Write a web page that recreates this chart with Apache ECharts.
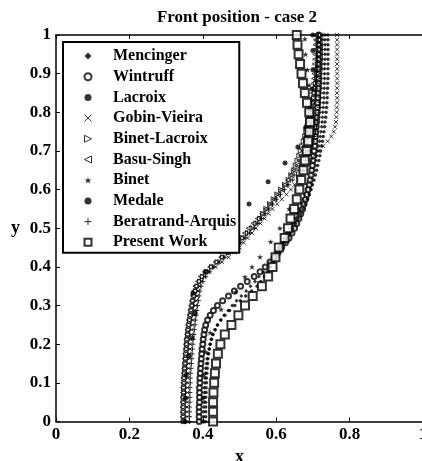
<!DOCTYPE html>
<html><head><meta charset="utf-8">
<script src="https://cdn.jsdelivr.net/npm/echarts@6/dist/echarts.min.js"></script>
<style>html,body{margin:0;padding:0;background:#fff;overflow:hidden}#c{width:422px;height:461px}</style>
</head><body><div id="c"></div>
<script>
// ---- data ----
const yLevels = [0,0.0125,0.025,0.0375,0.05,0.0625,0.075,0.0875,0.1,0.1125,0.125,0.1375,0.15,0.1625,0.175,0.1875,0.2,0.2125,0.225,0.2375,0.25,0.2625,0.275,0.2875,0.3,0.3125,0.325,0.3375,0.35,0.3625,0.375,0.3875,0.4,0.4125,0.425,0.4375,0.45,0.4625,0.475,0.4875,0.5,0.5125,0.525,0.5375,0.55,0.5625,0.575,0.5875,0.6,0.6125,0.625,0.6375,0.65,0.6625,0.675,0.6875,0.7,0.7125,0.725,0.7375,0.75,0.7625,0.775,0.7875,0.8,0.8125,0.825,0.8375,0.85,0.8625,0.875,0.8875,0.9,0.9125,0.925,0.9375,0.95,0.9625,0.975,0.9875,1];
const mencingerX = [.402,.402,.402,.403,.403,.403,.404,.404,.405,.406,.407,.408,.41,.412,.414,.417,.42,.424,.428,.434,.44,.449,.458,.469,.48,.492,.505,.518,.53,.542,.553,.563,.573,.582,.59,.599,.607,.615,.622,.63,.637,.644,.65,.656,.662,.668,.673,.678,.683,.688,.692,.696,.70,.704,.707,.71,.713,.716,.718,.72,.722,.724,.725,.726,.727,.728,.729,.73,.73,.731,.731,.732,.732,.732,.732,.733,.733,.733,.733,.733,.733];
const wintruffX = [.390,.390,.390,.390,.391,.391,.391,.391,.392,.392,.393,.394,.395,.396,.397,.398,.400,.401,.403,.405,.408,.413,.42,.429,.44,.454,.47,.486,.503,.521,.54,.556,.57,.583,.595,.605,.615,.625,.635,.643,.65,.656,.662,.667,.672,.676,.68,.684,.687,.69,.692,.695,.697,.699,.70,.702,.703,.705,.706,.707,.708,.709,.71,.711,.712,.713,.713,.714,.714,.715,.715,.715,.715,.716,.716,.716,.716,.716,.716,.716,.716];
const lacroixX = [.408,.408,.408,.408,.408,.408,.409,.409,.41,.41,.411,.412,.413,.414,.416,.418,.42,.423,.427,.433,.44,.449,.46,.473,.487,.502,.517,.533,.548,.558,.568,.577,.585,.593,.60,.608,.615,.623,.63,.638,.645,.653,.66,.667,.673,.679,.685,.69,.695,.699,.703,.707,.71,.713,.716,.719,.721,.724,.726,.728,.73,.732,.733,.735,.736,.737,.738,.739,.739,.74,.74,.741,.741,.741,.741,.741,.741,.741,.741,.741,.741];
const gobinVieiraX = [.357,.357,.357,.357,.358,.358,.358,.358,.359,.359,.36,.361,.362,.363,.364,.365,.366,.367,.369,.37,.372,.374,.376,.378,.38,.382,.385,.388,.392,.397,.405,.418,.435,.452,.47,.486,.50,.511,.522,.534,.545,.557,.568,.579,.59,.603,.615,.628,.64,.65,.66,.669,.678,.686,.695,.705,.715,.728,.74,.75,.757,.76,.763,.764,.765,.765,.766,.766,.766,.766,.766,.766,.766,.766,.766,.766,.766,.766,.766,.766,.766];
const binetLacroixX = [.348,.348,.348,.348,.348,.348,.349,.349,.35,.35,.351,.352,.353,.354,.355,.356,.357,.358,.36,.361,.363,.365,.367,.369,.372,.374,.377,.381,.385,.392,.40,.412,.425,.44,.455,.47,.485,.498,.51,.523,.535,.546,.556,.564,.573,.583,.593,.603,.613,.624,.634,.641,.648,.653,.658,.663,.667,.671,.675,.679,.682,.685,.688,.691,.694,.697,.70,.703,.705,.707,.709,.711,.712,.714,.715,.716,.717,.718,.718,.719,.72];
const basuSinghX = [.345,.345,.345,.345,.345,.345,.346,.346,.347,.347,.348,.349,.35,.351,.352,.353,.354,.355,.357,.358,.36,.362,.364,.366,.368,.37,.373,.376,.38,.387,.395,.407,.42,.435,.45,.465,.48,.493,.505,.515,.525,.538,.55,.562,.573,.584,.595,.605,.615,.624,.633,.642,.65,.657,.663,.668,.673,.677,.68,.683,.686,.688,.69,.692,.694,.696,.697,.699,.70,.701,.702,.703,.704,.705,.705,.706,.706,.707,.707,.708,.708];
const beratrandArquisX = [.364,.364,.364,.364,.365,.365,.365,.365,.366,.366,.367,.368,.369,.37,.371,.372,.373,.374,.376,.377,.379,.38,.382,.384,.386,.388,.39,.392,.395,.40,.408,.418,.43,.445,.46,.475,.49,.503,.515,.528,.54,.55,.56,.57,.58,.59,.60,.611,.622,.634,.645,.655,.665,.673,.68,.686,.692,.696,.70,.704,.707,.71,.712,.714,.716,.718,.719,.72,.721,.722,.723,.724,.724,.725,.725,.726,.726,.726,.726,.727,.727];
const presentWorkY = [0,0.025,0.05,0.075,0.1,0.125,0.15,0.175,0.2,0.225,0.25,0.275,0.3,0.325,0.35,0.375,0.4,0.425,0.45,0.475,0.5,0.525,0.55,0.575,0.6,0.625,0.65,0.675,0.7,0.725,0.75,0.775,0.8,0.825,0.85,0.875,0.9,0.925,0.95,0.975,1];
const presentWorkX = [.428,.428,.428,.429,.431,.433,.436,.441,.448,.46,.478,.497,.515,.536,.561,.578,.59,.598,.607,.623,.632,.639,.649,.656,.663,.668,.674,.678,.683,.687,.69,.692,.69,.684,.678,.673,.669,.665,.661,.658,.656];
const binetPts = [[.40,0],[.401,.06],[.403,.12],[.408,.18],[.42,.23],[.45,.29],[.49,.335],[.515,.374],[.534,.40],[.556,.426],[.585,.465],[.61,.50],[.635,.55],[.655,.60],[.672,.65],[.685,.70],[.695,.75],[.70,.79],[.695,.83],[.69,.87],[.685,.91],[.68,.95],[.678,.99]];
const medalePts = [[.352,0],[.353,.06],[.355,.12],[.362,.17],[.371,.216],[.379,.28],[.373,.332],[.406,.387],[.45,.44],[.49,.505],[.526,.563],[.578,.62],[.624,.669],[.659,.71],[.68,.76],[.692,.81],[.698,.86],[.70,.91],[.70,.96],[.70,1]];
const xTickStep = 0.2;
const yTickStep = 0.1;

// ---- chart ----
const F = 'Liberation Serif';
const withY = (xs, ys) => xs.map((x, i) => [x, ys[i]]);
const hollow = {color: 'rgba(0,0,0,0)', borderColor: '#000', borderWidth: 1};
const filled = {color: '#000'};
const P = {
  x: 'path://M0,0 L10,10 M10,0 L0,10',
  plus: 'path://M5,0 L5,10 M0,5 L10,5',
  triR: 'path://M0,0 L10,5 L0,10 Z',
  triL: 'path://M10,0 L0,5 L10,10 Z',
  star: 'path://M5,0 L6.2,3.6 L10,3.6 L7,5.9 L8.1,9.5 L5,7.3 L1.9,9.5 L3,5.9 L0,3.6 L3.8,3.6 Z'
};
function sc(name, data, symbol, size, style) {
  return {name, type: 'scatter', data, symbol, symbolSize: size, symbolKeepAspect: true, itemStyle: style,
          emphasis: {disabled: true}, silent: true, animation: false};
}
const series = [
  sc('Mencinger', withY(mencingerX, yLevels), 'diamond', 4, filled),
  sc('Wintruff', withY(wintruffX, yLevels), 'emptyCircle', 5, {color: '#000', borderColor: '#000', borderWidth: 1}),
  sc('Lacroix', withY(lacroixX, yLevels), 'circle', 3.5, filled),
  sc('Gobin-Vieira', withY(gobinVieiraX, yLevels), P.x, 4, hollow),
  sc('Binet-Lacroix', withY(binetLacroixX, yLevels), P.triR, 5, hollow),
  sc('Basu-Singh', withY(basuSinghX, yLevels), P.triL, 5, hollow),
  sc('Binet', binetPts, P.star, 6, filled),
  sc('Medale', medalePts, 'circle', 5, filled),
  sc('Beratrand-Arquis', withY(beratrandArquisX, yLevels), P.plus, 5, hollow),
  sc('Present Work', withY(presentWorkX, presentWorkY), 'emptyRect', 8, {color: '#000', borderColor: '#000', borderWidth: 1})
];
const lblStyle = {fontFamily: F, fontWeight: 'bold', fontSize: 17, color: '#000'};
const chart = echarts.init(document.getElementById('c'), null, {renderer: 'canvas'});
chart.setOption({
  animation: false,
  backgroundColor: '#fff',
  title: {text: 'Front position - case 2', left: 237, top: 9, padding: 0, textAlign: 'center',
          textStyle: {fontFamily: F, fontWeight: 'bold', fontSize: 17, color: '#000'}},
  grid: {left: 56, top: 35, width: 367, height: 386.5, containLabel: false, outerBoundsMode: 'none'},
  legend: {
    orient: 'vertical', left: 63, top: 42, padding: [5.5, 3, 2, 20.5],
    backgroundColor: '#fff', borderColor: '#000', borderWidth: 2, borderRadius: 0,
    itemWidth: 7, itemHeight: 7, itemGap: 3.7, selectedMode: false, symbolKeepAspect: true,
    itemStyle: {borderWidth: 1},
    textStyle: {fontFamily: F, fontWeight: 'bold', fontSize: 16, color: '#000', lineHeight: 17, padding: [0, 0, 0, 16.5]},
    data: series.map(s => s.name)
  },
  xAxis: [
    {type: 'value', min: 0, max: 1, interval: xTickStep, position: 'bottom',
     name: 'x', nameLocation: 'middle', nameGap: 19,
     nameTextStyle: {fontFamily: F, fontWeight: 'bold', fontSize: 18, color: '#000'},
     axisLine: {show: true, lineStyle: {color: '#000', width: 1.5}},
     axisTick: {inside: true, length: 4, lineStyle: {color: '#000'}},
     axisLabel: Object.assign({margin: 5}, lblStyle),
     splitLine: {show: false}},
    {type: 'value', min: 0, max: 1, interval: xTickStep, position: 'top',
     axisLine: {show: true, lineStyle: {color: '#000', width: 1.5}},
     axisTick: {inside: true, length: 4, lineStyle: {color: '#000'}},
     axisLabel: {show: false}, splitLine: {show: false}}
  ],
  yAxis: {type: 'value', min: 0, max: 1, interval: yTickStep,
     name: 'y', nameLocation: 'middle', nameGap: 36, nameRotate: 0,
     nameTextStyle: {fontFamily: F, fontWeight: 'bold', fontSize: 18, color: '#000'},
     axisLine: {show: true, lineStyle: {color: '#000', width: 1.5}},
     axisTick: {inside: true, length: 4, lineStyle: {color: '#000'}},
     axisLabel: Object.assign({margin: 5}, lblStyle),
     splitLine: {show: false}},
  series: series
});
</script></body></html>
